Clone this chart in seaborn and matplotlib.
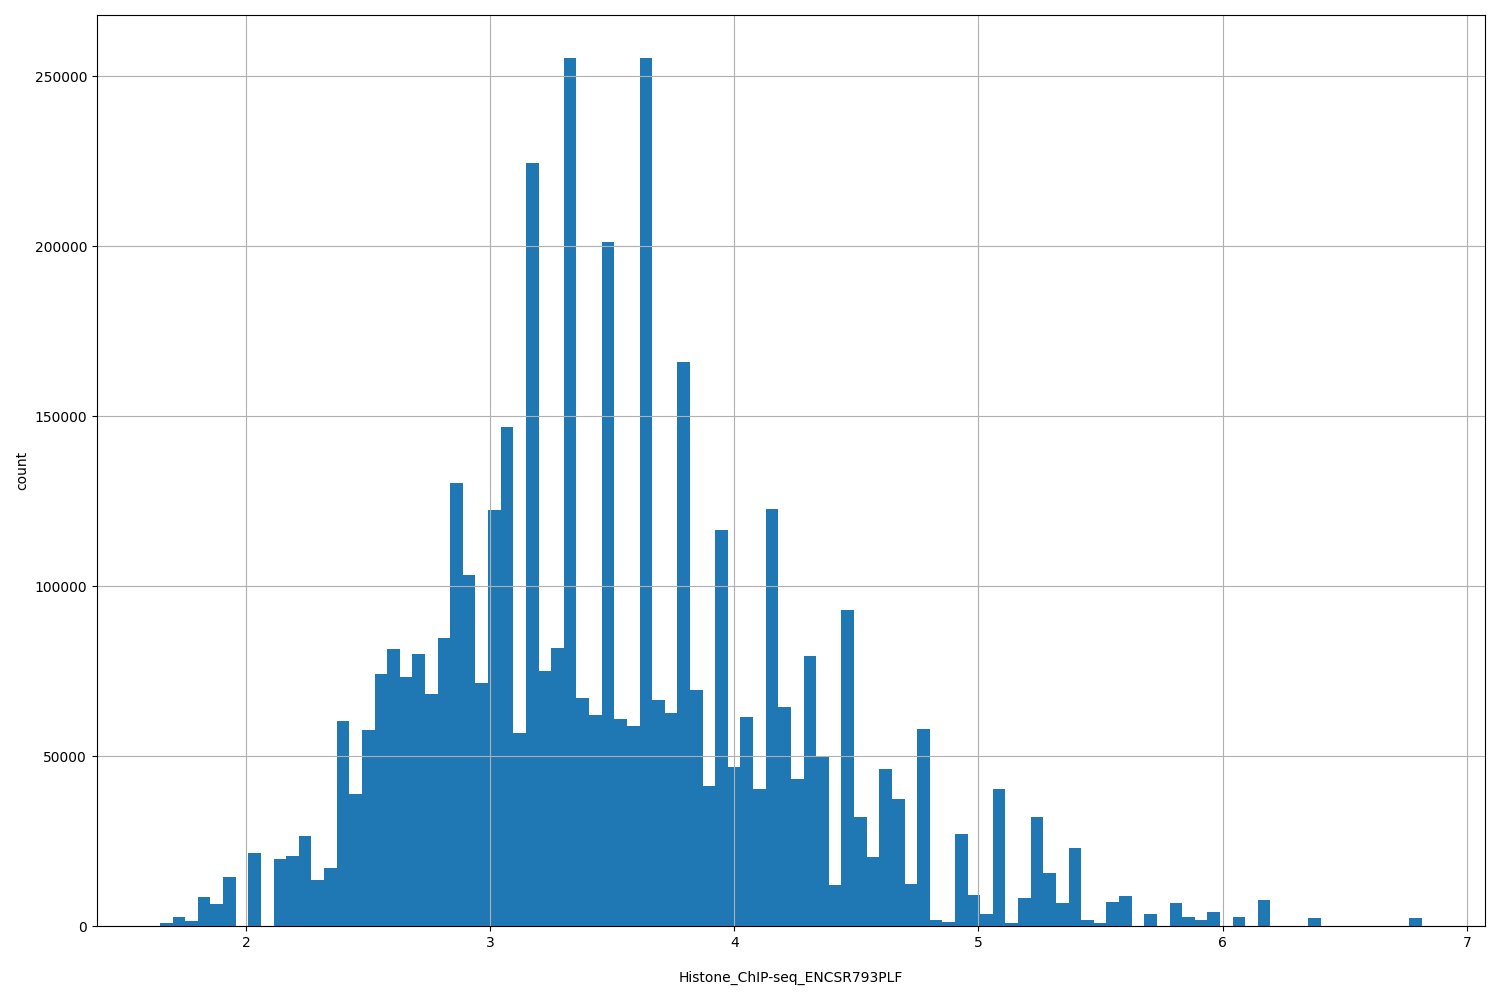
import numpy as np
import pandas as pd
import matplotlib
matplotlib.use('Agg')
import matplotlib.pyplot as plt
import seaborn as sns

# histogram range and per-bin counts (100 equal bins)
bin_min = 1.648
bin_max = 6.816
counts = [
    900, 2700, 1500, 8500, 6500, 14400, 0, 21500, 0, 19700,
    20600, 26500, 13500, 17100, 60400, 38900, 57700, 74200, 81600, 73300,
    80100, 68300, 84800, 130400, 103400, 71600, 122500, 146900, 56800, 224400,
    75100, 81900, 255300, 67100, 62100, 201400, 61000, 58900, 255300, 66500,
    62700, 166100, 69500, 41200, 116600, 46800, 61500, 40300, 122800, 64500,
    43300, 79500, 50000, 12100, 93000, 32100, 20300, 46200, 37400, 12400,
    58000, 1800, 1200, 27100, 9100, 3500, 40300, 900, 8200, 32100,
    15600, 6800, 23000, 2000, 1000, 7100, 8800, 0, 3500, 0,
    6800, 2700, 2000, 4100, 0, 2700, 0, 7700, 0, 0,
    0, 2400, 0, 0, 0, 0, 0, 0, 0, 2400,
]
x_label = 'Histone_ChIP-seq_ENCSR793PLF'
y_label = 'count'

edges = np.linspace(bin_min, bin_max, len(counts) + 1)
df = pd.DataFrame({
    'value': (edges[:-1] + edges[1:]) / 2,
    'n': np.array(counts, dtype=float),
})

plt.rcParams['font.family'] = ['DejaVu Sans']
fig, ax = plt.subplots(figsize=(15, 10), dpi=100)

# bins passed as a plain list (seaborn compares it to "auto")
sns.histplot(data=df, x='value', weights='n', bins=edges.tolist(), ax=ax,
             color='#1f77b4', alpha=1.0, linewidth=0)

ax.grid(True, color='#b0b0b0', linewidth=0.8)
ax.set_axisbelow('line')
ax.set_xticks([2, 3, 4, 5, 6, 7])
ax.set_xlabel(x_label, labelpad=15)
ax.set_ylabel(y_label)

plt.tight_layout()
plt.savefig('out.png', dpi=100)
